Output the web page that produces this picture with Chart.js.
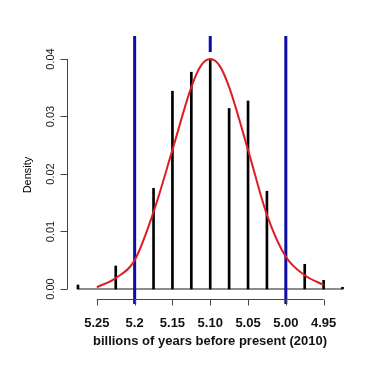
<!DOCTYPE html>
<html>
<head>
<meta charset="utf-8">
<script src="https://cdn.jsdelivr.net/npm/chart.js@4.4.0/dist/chart.umd.min.js"></script>
<style>
  html, body { margin: 0; padding: 0; background: #fff; }
  #wrap { width: 384px; height: 384px; position: relative; }
</style>
</head>
<body>
<div id="wrap"><canvas id="chart"></canvas></div>
<script>
// sample ages (billions of years) and their observed densities
const ageValues = [5.275, 5.225, 5.175, 5.15, 5.125, 5.10, 5.075, 5.05, 5.025, 4.975, 4.95, 4.925];
const densityValues = [0.0007, 0.004, 0.0175, 0.0344, 0.0377, 0.040, 0.0314, 0.0327, 0.017, 0.0043, 0.0015, 0.0003];

// fitted curve
const curveAges = [5.25, 5.225, 5.2, 5.175, 5.15, 5.125, 5.1125, 5.10, 5.0875, 5.075, 5.05, 5.025, 5.00, 4.975, 4.95];
const curveDensity = [0.0003, 0.0019, 0.005, 0.0134, 0.0242, 0.0351, 0.0388, 0.040, 0.0388, 0.0351, 0.0242, 0.0129, 0.0056, 0.0024, 0.0007];

// interval limits and centre estimate
const cutoffs = [5.2, 5.00];
const estimate = 5.10;

const xTicks = [5.25, 5.2, 5.15, 5.10, 5.05, 5.00, 4.95];
const xTickLabels = ['5.25', '5.2', '5.15', '5.10', '5.05', '5.00', '4.95'];
const yTicks = [0, 0.01, 0.02, 0.03, 0.04];
const yTickLabels = ['0.00', '0.01', '0.02', '0.03', '0.04'];

const X_MIN = 4.9098, X_MAX = 5.2895;
const Y_MIN = -0.00261, Y_MAX = 0.044;

const BLUE = '#0c0ca6';
const RED = '#dc1e24';

// R style axes drawn by hand, positioned through the chart scales
const rAxes = {
  id: 'rAxes',
  afterDraw(chart) {
    const { ctx, scales: { x, y }, chartArea } = chart;
    ctx.save();
    ctx.strokeStyle = '#444';
    ctx.lineWidth = 1;
    ctx.fillStyle = '#222';

    // y axis
    const ax = Math.round(chartArea.left) + 0.5;
    ctx.beginPath();
    ctx.moveTo(ax, y.getPixelForValue(yTicks[0]));
    ctx.lineTo(ax, y.getPixelForValue(yTicks[yTicks.length - 1]));
    yTicks.forEach(v => {
      const py = Math.round(y.getPixelForValue(v)) + 0.5;
      ctx.moveTo(ax, py);
      ctx.lineTo(ax - 7, py);
    });
    ctx.stroke();

    ctx.font = '11px "Liberation Sans", Arial, sans-serif';
    ctx.textAlign = 'center';
    ctx.textBaseline = 'middle';
    yTicks.forEach((v, i) => {
      ctx.save();
      ctx.translate(ax - 17, y.getPixelForValue(v));
      ctx.rotate(-Math.PI / 2);
      ctx.fillText(yTickLabels[i], 0, 0);
      ctx.restore();
    });
    ctx.save();
    ctx.translate(28, 175);
    ctx.rotate(-Math.PI / 2);
    ctx.fillStyle = '#000';
    ctx.fillText('Density', 0, 0);
    ctx.restore();

    // x axis, offset below the plot
    const ay = Math.round(y.getPixelForValue(0)) + 10.5;
    ctx.beginPath();
    ctx.moveTo(x.getPixelForValue(xTicks[0]), ay);
    ctx.lineTo(x.getPixelForValue(xTicks[xTicks.length - 1]), ay);
    xTicks.forEach(v => {
      const px = Math.round(x.getPixelForValue(v)) + 0.5;
      ctx.moveTo(px, ay);
      ctx.lineTo(px, ay + 6);
    });
    ctx.stroke();

    ctx.fillStyle = '#111';
    ctx.font = 'bold 13px "Liberation Sans", Arial, sans-serif';
    xTicks.forEach((v, i) => {
      ctx.fillText(xTickLabels[i], x.getPixelForValue(v), ay + 24);
    });
    ctx.fillText('billions of years before present (2010)', 210, ay + 42);
    ctx.restore();
  }
};

const vline = (v, lo, hi) => [{ x: v, y: lo }, { x: v, y: hi }];

new Chart(document.getElementById('chart'), {
  type: 'bar',
  data: {
    datasets: [
      {
        type: 'bar',
        data: ageValues.map((a, i) => ({ x: a, y: densityValues[i] })),
        backgroundColor: '#000',
        barThickness: 2,
        order: 3
      },
      {
        type: 'line',
        data: [{ x: ageValues[0], y: 0 }, { x: ageValues[ageValues.length - 1], y: 0 }],
        borderColor: '#666',
        borderWidth: 1.5,
        pointRadius: 0,
        order: 4
      },
      {
        type: 'line',
        data: curveAges.map((a, i) => ({ x: a, y: curveDensity[i] })),
        borderColor: RED,
        borderWidth: 2,
        pointRadius: 0,
        cubicInterpolationMode: 'monotone',
        order: 0
      },
      ...cutoffs.map(c => ({
        type: 'line',
        data: vline(c, Y_MIN, Y_MAX),
        borderColor: BLUE,
        borderWidth: 3,
        pointRadius: 0,
        order: 1
      })),
      {
        type: 'line',
        data: vline(estimate, 0.0412, Y_MAX),
        borderColor: BLUE,
        borderWidth: 3,
        pointRadius: 0,
        order: 1
      }
    ]
  },
  options: {
    responsive: true,
    maintainAspectRatio: false,
    animation: false,
    layout: { padding: { left: 67, right: 30, top: 36, bottom: 80 } },
    plugins: {
      legend: { display: false },
      tooltip: { enabled: false }
    },
    scales: {
      x: {
        type: 'linear',
        reverse: true,
        offset: false,
        min: X_MIN,
        max: X_MAX,
        display: false
      },
      y: {
        type: 'linear',
        min: Y_MIN,
        max: Y_MAX,
        display: false
      }
    }
  },
  plugins: [rAxes]
});
</script>
</body>
</html>
